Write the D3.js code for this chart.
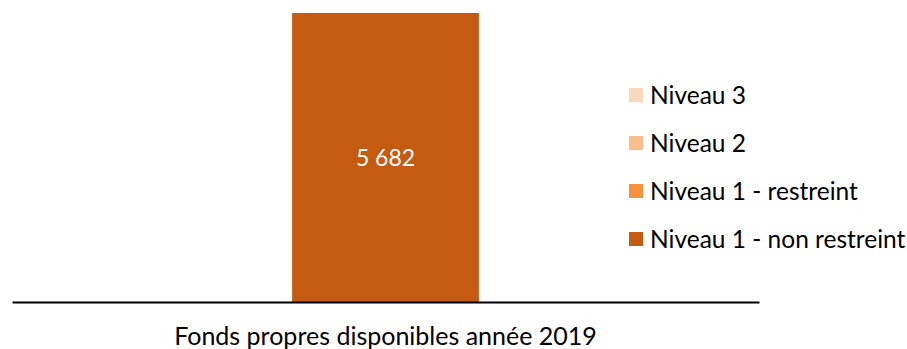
<!DOCTYPE html>
<html>
<head>
<meta charset="utf-8">
<script src="https://cdn.jsdelivr.net/npm/d3@7"></script>
<style>
  body { margin: 0; background: #fff; }
  text { font-family: Lato, "Open Sans", sans-serif; }
</style>
</head>
<body>
<div id="chart"></div>
<script>
// data
const categories = ['Fonds propres disponibles année 2019'];
const seriesNames = ['Niveau 1 - non restreint', 'Niveau 1 - restreint', 'Niveau 2', 'Niveau 3'];
const seriesValues = [[5682], [0], [0], [0]];
const seriesColors = ['#C55A11', '#F5923A', '#F8BE8E', '#FAD8BA'];

const width = 907, height = 349;

const svg = d3.select('#chart')
    .append('svg')
    .attr('width', width)
    .attr('height', height);

const xScale = d3.scaleBand()
    .domain(categories)
    .range([12, 759])
    .padding(0.6);

// stack the series on top of each other
const rows = categories.map((c, i) => {
    const r = { cat: c };
    seriesNames.forEach((s, j) => r[s] = seriesValues[j][i]);
    return r;
});
const stacked = d3.stack().keys(seriesNames)(rows);

const yScale = d3.scaleLinear()
    .domain([0, d3.max(stacked[stacked.length - 1], d => d[1])])
    .range([302, 13]);

const layers = svg.selectAll('.layer')
    .data(stacked)
    .enter()
    .append('g')
    .attr('fill', (d, i) => seriesColors[i]);

layers.selectAll('rect')
    .data(d => d.map(v => ({ v, key: d.key })))
    .enter()
    .append('rect')
    .attr('x', d => xScale(d.v.data.cat))
    .attr('y', d => yScale(d.v[1]))
    .attr('width', xScale.bandwidth())
    .attr('height', d => yScale(d.v[0]) - yScale(d.v[1]));

// value labels, only for non-empty segments
layers.selectAll('.lbl')
    .data(d => d.filter(v => v[1] - v[0] > 0).map(v => ({ v })))
    .enter()
    .append('text')
    .attr('x', d => xScale(d.v.data.cat) + xScale.bandwidth() / 2)
    .attr('y', d => (yScale(d.v[0]) + yScale(d.v[1])) / 2)
    .attr('dy', '0.35em')
    .attr('text-anchor', 'middle')
    .attr('fill', '#fff')
    .style('font-size', '23px')
    .text(d => d3.format(',')(d.v[1] - d.v[0]).replace(/,/g, ' '));

// x axis: line plus category label
const xAxis = svg.append('g')
    .attr('transform', 'translate(0,302)')
    .call(d3.axisBottom(xScale).tickSize(0).tickPadding(25));
xAxis.select('.domain').attr('stroke', '#000').attr('stroke-width', 2);
xAxis.selectAll('.tick text')
    .attr('fill', '#000')
    .style('font-size', '25px')
    .style('font-family', 'Lato, sans-serif');

// legend, reversed order (top = Niveau 3)
const legendOrder = seriesNames.map((s, i) => i).reverse();
const legend = svg.append('g');
legendOrder.forEach((si, k) => {
    const cy = 95 + k * 48;
    legend.append('rect')
        .attr('x', 629).attr('y', cy - 7)
        .attr('width', 14).attr('height', 14)
        .attr('fill', seriesColors[si]);
    legend.append('text')
        .attr('x', 650).attr('y', cy)
        .attr('dy', '0.35em')
        .attr('fill', '#000')
        .style('font-size', '24.5px')
        .text(seriesNames[si]);
});
</script>
</body>
</html>
